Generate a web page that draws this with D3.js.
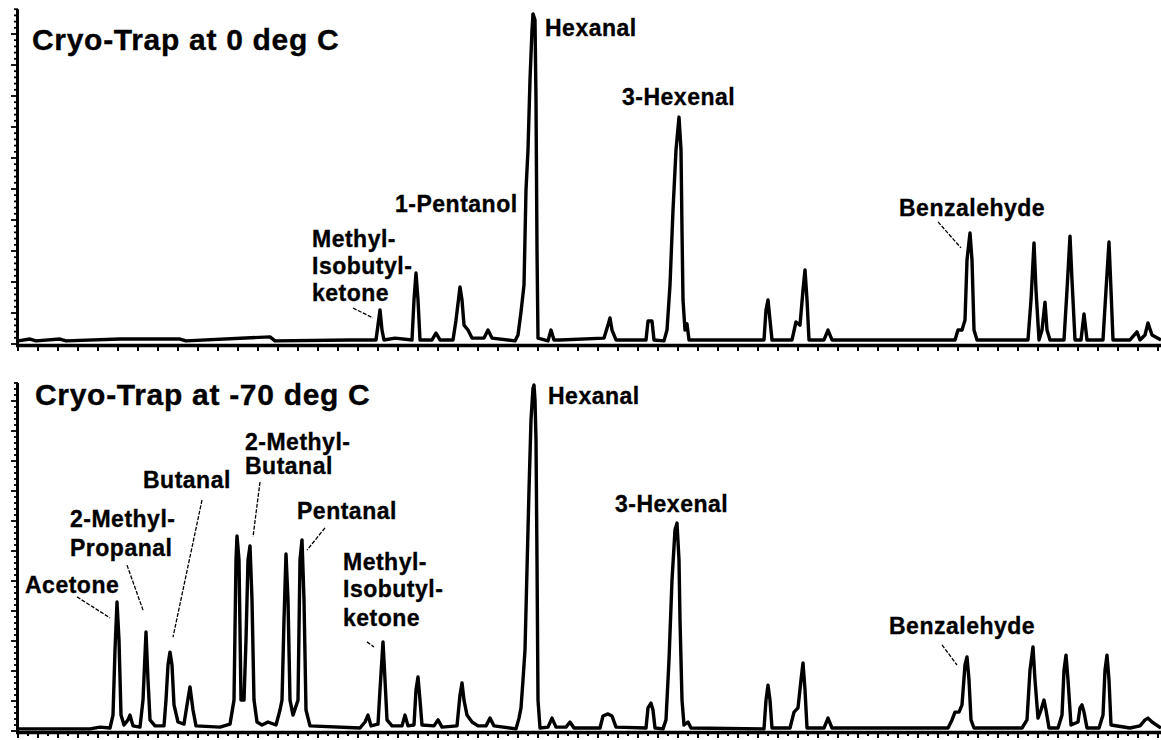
<!DOCTYPE html>
<html><head><meta charset="utf-8">
<script src="https://cdn.jsdelivr.net/npm/d3@7"></script>
<style>
body{margin:0;background:#fff}
svg{display:block;background:#fff}
text{font-family:"Liberation Sans",Arial,Helvetica,sans-serif;font-weight:bold;fill:#000;stroke:#000;stroke-width:0.35px}
</style></head><body>
<svg id="chart" width="1161" height="740"></svg>
<script>
// Retention time (min) and detector signal (arbitrary units)
const traceTop = [
[0,1.0],[0.6,1.6],[0.9,1.0],[2.1,1.6],[2.4,1.0],[5.1,1.6],[8.1,1.6],[8.4,1.0],[12.6,2.3],[12.85,1.0],
[16.6,1.3],[17.7,1.3],[17.9,1.3],[18.0,6.1],[18.1,11.0],[18.2,4.5],[18.3,1.3],[18.85,1.9],
[19.7,1.3],[19.8,14.2],[19.9,22.9],[20.0,14.2],[20.1,1.3],[20.7,1.3],[20.9,3.5],[21.1,1.3],
[21.75,1.3],[21.9,7.7],[22.1,18.4],[22.2,14.2],[22.3,6.1],[22.5,4.5],[22.7,1.9],[23.3,1.9],[23.5,4.5],[23.7,1.9],
[24.85,1.0],[25.0,2.9],[25.15,10.3],[25.3,19.0],[25.4,49.7],[25.5,62.6],[25.6,85.2],[25.7,101.3],[25.75,106.5],
[25.85,104.5],[25.9,78.7],[25.95,30.3],[26.0,1.9],[26.5,1.0],[26.65,4.5],[26.8,1.3],[27.1,1.3],
[29.3,1.9],[29.5,6.1],[29.6,8.4],[29.7,4.5],[29.9,1.3],[31.4,1.3],[31.5,7.4],[31.7,7.4],[31.8,1.3],
[32.3,1.0],[32.45,4.5],[32.6,19.0],[32.75,43.2],[32.9,62.6],[33.05,73.2],[33.15,62.6],[33.2,36.8],[33.25,14.2],
[33.35,4.5],[33.45,6.5],[33.55,1.3],[34.1,1.3],[37.3,1.3],[37.4,11.0],[37.5,14.2],[37.6,7.7],[37.7,1.3],
[38.7,1.3],[38.9,7.1],[39.1,6.1],[39.25,17.4],[39.35,23.9],[39.45,14.2],[39.55,1.3],[40.3,1.3],[40.5,4.5],[40.7,1.3],
[46.85,1.3],[47.0,4.5],[47.2,4.5],[47.35,7.7],[47.45,27.1],[47.6,35.8],[47.7,27.1],[47.8,4.5],[47.95,1.3],
[50.5,1.3],[50.65,14.2],[50.8,32.6],[50.9,17.4],[51.05,1.3],[51.2,4.5],[51.35,13.5],[51.45,4.5],[51.6,1.3],
[52.3,1.3],[52.45,17.4],[52.6,34.8],[52.7,20.6],[52.85,1.3],[53.15,1.3],[53.3,9.7],[53.45,1.3],
[54.25,1.3],[54.4,17.4],[54.55,32.9],[54.65,17.4],[54.75,1.3],[55.6,1.3],[55.95,3.9],[56.1,1.3],
[56.35,2.9],[56.5,6.8],[56.7,2.9],[57.15,1.3]
];
const traceBottom = [
[0,0.7],[3.6,0.7],[4.1,1.3],[4.6,1.0],[4.75,5.3],[4.85,27],[4.95,43],[5.05,30.3],[5.15,5.3],[5.3,2],[5.5,3.7],
[5.6,5.3],[5.75,1.7],[6.1,1.3],[6.25,10.3],[6.4,33],[6.5,17],[6.6,3.7],[6.85,1.7],[7.3,1.7],[7.4,10.3],[7.5,22],
[7.6,26.3],[7.7,22],[7.8,8.7],[8.0,3],[8.3,2.3],[8.45,8.7],[8.6,14.7],[8.75,7],[8.9,1.7],[10.1,1.3],[10.6,2.3],
[10.8,10.3],[10.9,57],[10.95,65],[11.05,57],[11.15,10.3],[11.3,10.3],[11.4,30.3],[11.5,57],[11.6,61.7],[11.7,43.7],
[11.8,10.3],[11.95,3],[12.2,2],[12.5,3],[12.9,2],[13.1,7],[13.2,10.3],[13.3,37],[13.4,59],[13.5,43.7],[13.6,10.3],
[13.75,5.3],[14.0,10.3],[14.1,57],[14.2,63.7],[14.3,43.7],[14.4,7],[14.6,1.7],[17.1,1],[17.35,3],[17.5,5.3],
[17.65,1.7],[18.0,2.3],[18.1,13.7],[18.25,29.7],[18.35,17],[18.45,3.7],[18.7,1.7],[19.2,1.7],[19.35,5.3],[19.5,1.7],
[19.8,2],[19.9,13.7],[20.0,18],[20.1,10.3],[20.2,2],[20.8,1.7],[21.0,3.7],[21.2,1.3],[21.95,1.7],[22.1,12],
[22.2,16],[22.3,10.3],[22.45,5.3],[22.7,3],[23.0,1.7],[23.4,1.7],[23.6,4.3],[23.8,1.7],[24.9,0.7],[25.05,4.3],
[25.15,7.7],[25.25,17],[25.35,27],[25.45,53.7],[25.55,80.3],[25.65,103.7],[25.75,114.3],[25.8,115.3],[25.85,110.3],
[25.9,97],[25.95,57],[26.0,10.3],[26.1,1],[26.5,1.3],[26.7,4.3],[26.9,1.3],[27.4,1.3],[27.6,3],[27.8,1],
[29.1,1],[29.25,5],[29.5,5.7],[29.7,5],[29.9,1.3],[31.4,1],[31.5,7.7],[31.65,9.3],[31.75,7],[31.85,1],
[32.25,0.7],[32.4,3.7],[32.55,23.7],[32.7,50.3],[32.85,67],[32.95,69.3],[33.05,57],[33.1,37],[33.2,10.3],[33.3,2],
[33.5,3],[33.65,1],[37.3,0.7],[37.4,10.3],[37.5,15.3],[37.6,10.3],[37.7,1],[38.6,1],[38.8,6.3],[39.0,7.7],
[39.15,17],[39.25,22.7],[39.35,13.7],[39.45,1],[40.3,1],[40.5,4.3],[40.7,1],[46.5,1],[46.7,3.7],[46.85,6.3],
[47.05,6.3],[47.2,8.7],[47.35,22],[47.45,24.7],[47.55,17],[47.65,3.7],[47.8,1],[50.2,1],[50.45,3.7],[50.6,20.3],
[50.75,28],[50.85,17],[51.0,4.3],[51.15,7],[51.3,10.3],[51.4,7],[51.55,1],[52.0,1],[52.2,5.3],[52.3,20.3],
[52.4,25.3],[52.5,17],[52.65,2],[53.0,3],[53.1,7.7],[53.2,8.7],[53.3,6.3],[53.45,1],[54.05,1],[54.25,5.3],
[54.35,20.3],[54.45,25.3],[54.55,17],[54.65,2],[55.6,1],[56.1,1.7],[56.35,3.7],[56.5,4.3],[56.7,3],[57.15,1]
];
// Peak annotations: text lines, anchor (time, signal of each baseline), leader line ends
const labelsTop = [
  {lines:["Methyl-","Isobutyl-","ketone"], t:14.7, v:[31.3,22.6,13.9], leader:[[16.75,11.6],[17.75,8.4]]},
  {lines:["1-Pentanol"], t:18.85, v:[42.6], leader:null},
  {lines:["Hexanal"], t:26.35, v:[99.4], leader:null},
  {lines:["3-Hexenal"], t:30.2, v:[77.1], leader:null},
  {lines:["Benzalehyde"], t:44.05, v:[41.3], leader:[[46.0,39.4],[47.15,31.0]]}
];
const labelsBottom = [
  {lines:["Acetone"], t:0.35, v:[46], leader:[[2.95,44.7],[4.6,37.7]]},
  {lines:["2-Methyl-","Propanal"], t:2.6, v:[68,58.3], leader:[[5.45,55.3],[6.25,40.3]]},
  {lines:["Butanal"], t:6.25, v:[81], leader:[[9.2,77],[7.75,31.3]]},
  {lines:["2-Methyl-","Butanal"], t:11.35, v:[93.7,85.7], leader:[[12.1,83],[11.75,64.7]]},
  {lines:["Pentanal"], t:13.95, v:[70.7], leader:[[15.35,67.7],[14.45,60.3]]},
  {lines:["Methyl-","Isobutyl-","ketone"], t:16.25, v:[53.7,44.7,35], leader:[[17.45,29.7],[17.8,28]]},
  {lines:["Hexanal"], t:26.5, v:[109], leader:null},
  {lines:["3-Hexenal"], t:29.85, v:[73], leader:null},
  {lines:["Benzalehyde"], t:43.55, v:[32.3], leader:[[46.2,28.7],[46.95,22]]}
];
const titles = ["Cryo-Trap at 0 deg C", "Cryo-Trap at -70 deg C"];
const timeDomain = [0, 57.15];

const svg = d3.select("#chart");
const x = d3.scaleLinear().domain(timeDomain).range([18, 1161]);

const panels = [
  {trace:traceTop, labels:labelsTop, title:titles[0], yMax:108, base:344, pxPerUnit:3.1, titlePos:[32,50], xMinor:1},
  {trace:traceBottom, labels:labelsBottom, title:titles[1], yMax:116, base:731, pxPerUnit:3.0, titlePos:[35,405], xMinor:0.5}
];

panels.forEach(p => {
  const y = d3.scaleLinear().domain([0, p.yMax]).range([p.base, p.base - p.yMax * p.pxPerUnit]);
  const g = svg.append("g");

  // x axis ticks
  const xt = d3.range(0, timeDomain[1] + 0.001, p.xMinor);
  g.selectAll("line.xt").data(xt).join("line")
    .attr("x1", d => x(d)).attr("x2", d => x(d))
    .attr("y1", p.base + 1).attr("y2", d => p.base + (Number.isInteger(d) ? 7 : 5))
    .attr("stroke", "#000").attr("stroke-width", 2);
  // y axis ticks
  const yt = d3.range(0, p.yMax + 0.001, 2);
  g.selectAll("line.yt").data(yt).join("line")
    .attr("x1", d => d % 10 === 0 ? 11 : 14).attr("x2", 18)
    .attr("y1", d => y(d)).attr("y2", d => y(d))
    .attr("stroke", "#000").attr("stroke-width", 1.8);
  // axis lines
  g.append("line").attr("x1", 16).attr("x2", 1161).attr("y1", p.base + 1.5).attr("y2", p.base + 1.5)
    .attr("stroke", "#000").attr("stroke-width", 3.5);
  g.append("line").attr("x1", 17.5).attr("x2", 17.5).attr("y1", p.base + 3).attr("y2", y(p.yMax))
    .attr("stroke", "#000").attr("stroke-width", 3);

  // trace
  const line = d3.line().x(d => x(d[0])).y(d => y(d[1]));
  g.append("path").datum(p.trace).attr("d", line)
    .attr("fill", "none").attr("stroke", "#000").attr("stroke-width", 3.4).attr("stroke-linejoin", "round");

  // title
  g.append("text").attr("x", p.titlePos[0]).attr("y", p.titlePos[1])
    .attr("font-size", 30).attr("letter-spacing", 0.7).text(p.title);

  // labels
  p.labels.forEach(l => {
    l.lines.forEach((s, i) => {
      g.append("text").attr("x", x(l.t)).attr("y", y(l.v[i]))
        .attr("font-size", 23).attr("letter-spacing", 0.5).text(s);
    });
    if (l.leader) {
      g.append("line")
        .attr("x1", x(l.leader[0][0])).attr("y1", y(l.leader[0][1]))
        .attr("x2", x(l.leader[1][0])).attr("y2", y(l.leader[1][1]))
        .attr("stroke", "#000").attr("stroke-width", 1.3).attr("stroke-dasharray", "4,1.5");
    }
  });
});
</script>
</body></html>
